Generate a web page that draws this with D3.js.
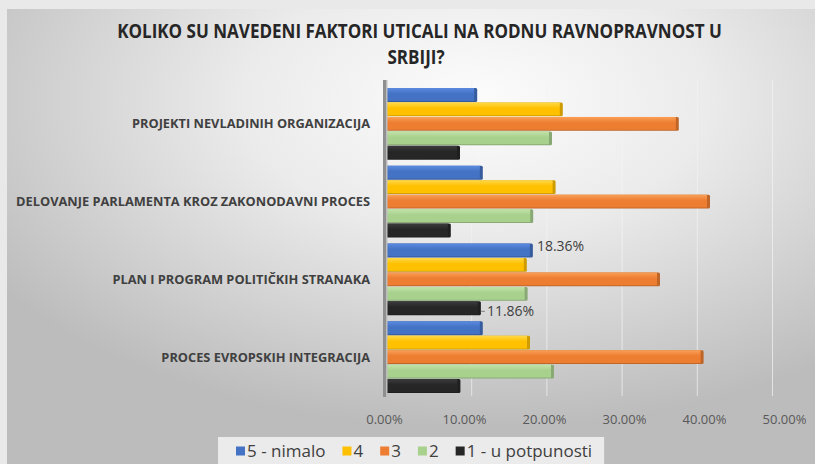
<!DOCTYPE html>
<html>
<head>
<meta charset="utf-8">
<script src="https://cdn.jsdelivr.net/npm/d3@7"></script>
<style>
  html, body { margin: 0; padding: 0; background: #e9e9e9; }
  svg { display: block; }
</style>
</head>
<body>
<div id="chart"></div>
<script>
const categories = [
  "PROJEKTI NEVLADINIH ORGANIZACIJA",
  "DELOVANJE PARLAMENTA KROZ ZAKONODAVNI PROCES",
  "PLAN I PROGRAM POLITIČKIH STRANAKA",
  "PROCES EVROPSKIH INTEGRACIJA"
];
const seriesNames = ["5 - nimalo", "4", "3", "2", "1 - u potpunosti"];
const nimalo = [0.114, 0.121, 0.1836, 0.121];
const cetiri = [0.221, 0.212, 0.176, 0.18];
const tri = [0.366, 0.405, 0.3425, 0.397];
const dva = [0.2075, 0.184, 0.177, 0.21];
const uPotpunosti = [0.0925, 0.081, 0.1186, 0.093];
const seriesColors = ["#4472c4", "#ffc000", "#ed7d31", "#a9d18e", "#262626"];
const seriesLight = ["#5b8be0", "#ffd94a", "#f9a056", "#c2e3a9", "#3c3c3c"];
const tickValues = [0, 0.1, 0.2, 0.3, 0.4, 0.5];
const titleLines = ["KOLIKO SU NAVEDENI FAKTORI UTICALI NA RODNU RAVNOPRAVNOST U", "SRBIJI?"];
// only two data labels are shown in the original
const shownLabels = [[0, 2], [4, 2]];

const width = 815, height = 464;
const seriesValues = [nimalo, cetiri, tri, dva, uPotpunosti];

const svg = d3.select("#chart").append("svg")
  .attr("width", width)
  .attr("height", height);

const defs = svg.append("defs");
const bg = defs.append("radialGradient")
  .attr("id", "bg")
  .attr("cx", "58%").attr("cy", "20%").attr("r", "72%");
bg.append("stop").attr("offset", "0%").attr("stop-color", "#fcfcfc");
bg.append("stop").attr("offset", "40%").attr("stop-color", "#ebebeb");
bg.append("stop").attr("offset", "100%").attr("stop-color", "#bcbcbc");

seriesColors.forEach((c, i) => {
  const g = defs.append("linearGradient")
    .attr("id", "bar" + i)
    .attr("x1", 0).attr("y1", 0).attr("x2", 0).attr("y2", 1);
  g.append("stop").attr("offset", "0%").attr("stop-color", seriesLight[i]);
  g.append("stop").attr("offset", "45%").attr("stop-color", c);
  g.append("stop").attr("offset", "100%").attr("stop-color", c);
});

// panel
svg.append("rect")
  .attr("x", 7).attr("y", 9)
  .attr("width", width - 7).attr("height", height - 9)
  .attr("fill", "url(#bg)");

// title, squeezed horizontally to look like a condensed face
const title = svg.append("g")
  .attr("font-family", "'Open Sans', sans-serif")
  .attr("font-weight", "bold")
  .attr("font-size", 19)
  .attr("fill", "#262626")
  .attr("text-anchor", "middle");
const t1 = title.append("text").attr("y", 38).text(titleLines[0]);
const squeeze = 605 / t1.node().getComputedTextLength();
t1.attr("transform", `translate(419.5,0) scale(${squeeze},1)`);
title.append("text").attr("y", 64).text(titleLines[1])
  .attr("transform", `translate(416,0) scale(${squeeze},1)`);

const x = d3.scaleLinear().domain([0, 0.5]).range([386, 786]);
// back wall of the 3D plot, where the gridlines sit
const xWall = d3.scaleLinear().domain([0, 0.5]).range([396, 772]);

const y0 = d3.scaleBand()
  .domain(categories)
  .range([85, 396])
  .paddingInner(0.07)
  .paddingOuter(0.035);
const y1 = d3.scaleBand()
  .domain(seriesNames)
  .range([0, y0.bandwidth()]);

// gridlines
svg.append("g")
  .attr("transform", "translate(0,396)")
  .call(d3.axisBottom(xWall).tickValues(tickValues.slice(1)).tickSize(-316).tickFormat(""))
  .call((g) => g.select(".domain").remove())
  .call((g) => g.selectAll("line").attr("stroke", "#f4f4f4").attr("stroke-opacity", 0.7));

// bars
const rows = categories.map((c, ci) =>
  seriesNames.map((s, si) => ({ cat: c, ci, series: s, si, value: seriesValues[si][ci] }))
);

const group = svg.append("g")
  .selectAll("g")
  .data(rows)
  .join("g")
  .attr("transform", (d, i) => `translate(0,${y0(categories[i])})`);

const bar = group.selectAll("g")
  .data((d) => d)
  .join("g");

bar.append("rect")
  .attr("x", x(0))
  .attr("y", (d) => y1(d.series) + 0.3)
  .attr("width", (d) => x(d.value) - x(0))
  .attr("height", y1.bandwidth() - 0.6)
  .attr("rx", 1.5)
  .attr("fill", (d) => d3.color(seriesColors[d.si]).darker(0.6));

bar.append("rect")
  .attr("x", x(0))
  .attr("y", (d) => y1(d.series) + 0.3)
  .attr("width", (d) => x(d.value) - x(0) - 3)
  .attr("height", y1.bandwidth() - 1.6)
  .attr("fill", (d) => `url(#bar${d.si})`);

// axis wall
svg.append("rect")
  .attr("x", 383).attr("y", 80)
  .attr("width", 4).attr("height", 317)
  .attr("fill", "#8f8f8f");
svg.append("rect")
  .attr("x", 386).attr("y", 80)
  .attr("width", 1.5).attr("height", 317)
  .attr("fill", "#bdbdbd");

// category labels
svg.append("g")
  .attr("font-family", "'Open Sans', sans-serif")
  .attr("font-weight", "bold")
  .attr("font-size", 12.8)
  .attr("fill", "#404040")
  .attr("text-anchor", "end")
  .selectAll("text")
  .data(categories)
  .join("text")
  .attr("x", 370)
  .attr("y", (d) => y0(d) + y0.bandwidth() / 2)
  .attr("dy", "0.35em")
  .text((d) => d);

// value axis labels
svg.append("g")
  .attr("transform", "translate(0,412)")
  .call(d3.axisBottom(x).tickValues(tickValues).tickSize(0).tickFormat(d3.format(".2%")))
  .call((g) => g.select(".domain").remove())
  .call((g) => g.selectAll("text")
    .attr("font-family", "'Open Sans', sans-serif")
    .attr("font-size", 13)
    .attr("fill", "#595959")
    .attr("dx", -2));

// data labels
const labelData = shownLabels.map(([si, ci]) => ({
  si, ci, value: seriesValues[si][ci],
  yc: y0(categories[ci]) + y1(seriesNames[si]) + y1.bandwidth() / 2
}));
const labels = svg.append("g")
  .attr("font-family", "'Open Sans', sans-serif")
  .attr("font-size", 14)
  .attr("fill", "#404040");
labels.selectAll("line")
  .data(labelData.filter((d) => d.si === 4))
  .join("line")
  .attr("x1", (d) => x(d.value))
  .attr("x2", (d) => x(d.value) + 4)
  .attr("y1", (d) => d.yc + 3)
  .attr("y2", (d) => d.yc + 3)
  .attr("stroke", "#7f7f7f");
labels.selectAll("text")
  .data(labelData)
  .join("text")
  .attr("x", (d) => x(d.value) + (d.si === 4 ? 6 : 4))
  .attr("y", (d) => d.yc + (d.si === 4 ? 3 : -4))
  .attr("dy", "0.35em")
  .text((d) => d3.format(".2%")(d.value));

// legend
const legend = svg.append("g");
const legendBox = legend.append("rect")
  .attr("x", 218).attr("y", 437)
  .attr("height", 30)
  .attr("fill", "#ebebeb");
let lx = 236;
seriesNames.forEach((name, i) => {
  const item = legend.append("g").attr("transform", `translate(${lx},451)`);
  item.append("rect")
    .attr("x", 0).attr("y", -4.5)
    .attr("width", 9).attr("height", 9)
    .attr("fill", seriesColors[i]);
  const t = item.append("text")
    .attr("x", 11)
    .attr("dy", "0.35em")
    .attr("font-family", "'Open Sans', sans-serif")
    .attr("font-size", 17)
    .attr("fill", "#404040")
    .text(name);
  lx += 11 + t.node().getComputedTextLength() + 17;
});
legendBox.attr("width", lx - 17 + 12 - 218);
</script>
</body>
</html>
